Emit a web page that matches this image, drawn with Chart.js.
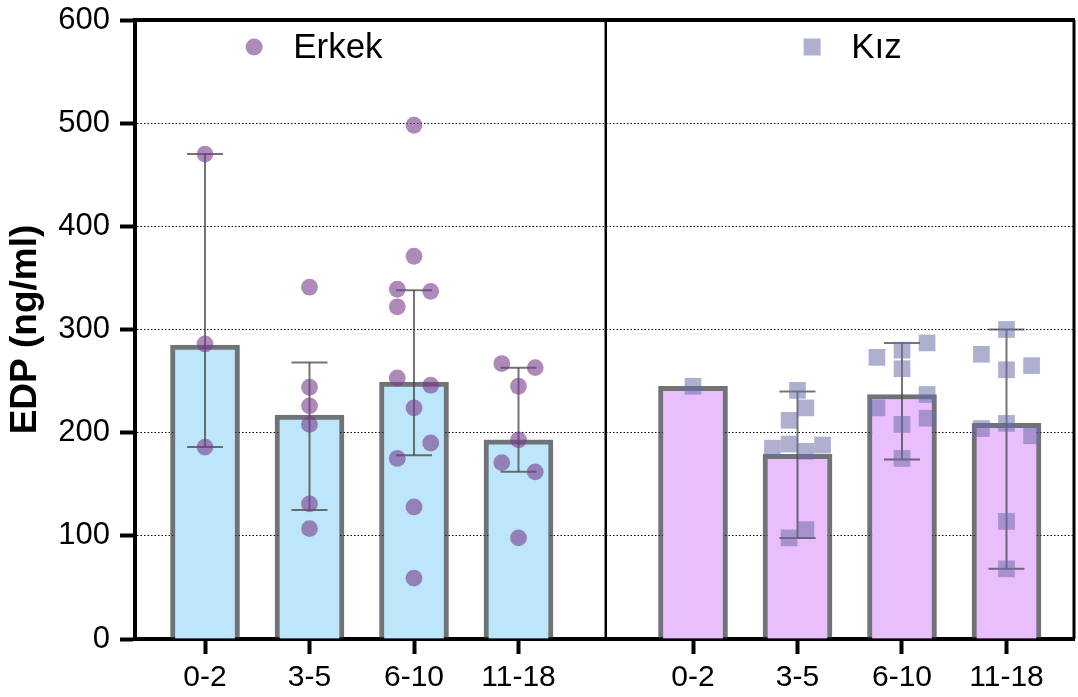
<!DOCTYPE html>
<html>
<head>
<meta charset="utf-8">
<script src="https://cdn.jsdelivr.net/npm/chart.js@4.4.0/dist/chart.umd.min.js"></script>
<style>
  html, body { margin: 0; padding: 0; background: #fff; }
  #wrap { width: 1078px; height: 697px; }
</style>
</head>
<body>
<div id="wrap"><canvas id="edpChart" width="1078" height="697"></canvas></div>
<script>
// age groups, same in both panels
const ageGroups = ['0-2', '3-5', '6-10', '11-18'];

// bar heights
const erkekBars = [285, 217, 249, 193];
const kizBars = [245, 179, 237, 209];

// whisker ends (low / high), no whisker for a single value
const erkekLow = [186, 125, 178, 162];
const erkekHigh = [470, 268, 338, 263];
const kizLow = [null, 98, 174, 68];
const kizHigh = [null, 240, 287, 300];

// single values per age group
const erkekPoints = [
    [470, 286, 186],
    [341, 244, 226, 208, 131, 107],
    [498, 371, 339, 337, 322, 253, 246, 224, 190, 175, 128, 59],
    [267, 263, 245, 193, 171, 162, 98]
];
const kizPoints = [
    [245],
    [241, 224, 212, 189, 185, 188, 182, 106, 98],
    [287, 280, 273, 262, 237, 224, 214, 208, 175],
    [300, 276, 265, 261, 209, 204, 197, 114, 68]
];

// column scatter lanes (left < 0 < right)
const erkekLanes = [
    [0, 0, 0],
    [0, 0, 0, 0, 0, 0],
    [0, 0, -2, 2, -2, -2, 2, 0, 2, -2, 0, 0],
    [-2, 2, 0, 0, -2, 2, 0]
];
const kizLanes = [
    [0],
    [0, 1, -1, -1, -3, 3, 1, 1, -1],
    [3, 0, -3, 0, 3, -3, 3, 0, 0],
    [0, -3, 3, 0, 0, -3, 3, 0, 0]
];

const yTicks = [0, 100, 200, 300, 400, 500, 600];

// layout
const leftSlots = [0, 1, 2, 3];
const rightSlots = [4.67, 5.67, 6.67, 7.67];
const dividerAt = 3.835;
const laneStep = 0.08;
const FONT = "'Liberation Sans', Arial, Helvetica, sans-serif";

const erkekColor = 'rgba(120, 60, 140, 0.6)';
const kizColor = 'rgba(110, 110, 170, 0.55)';
const barEdge = 'rgba(50, 55, 60, 0.7)';

function barData(slots, vals) {
    return slots.map((s, i) => ({ x: s, y: vals[i] }));
}

function whiskerData(slots, lo, hi) {
    const out = [];
    slots.forEach((s, i) => {
        if (lo[i] == null) return;
        out.push({ x: s, y: lo[i] }, { x: s, y: hi[i] }, { x: s, y: null });
    });
    return out;
}

function pointData(slots, pts, lanes) {
    const out = [];
    slots.forEach((s, i) => {
        pts[i].forEach((v, j) => out.push({ x: s + lanes[i][j] * laneStep, y: v }));
    });
    return out;
}

const legendSpots = [
    { text: 'Erkek', at: 0.47, style: 'circle', color: erkekColor },
    { text: 'Kız', at: 5.81, style: 'rect', color: kizColor }
];

const framePlugin = {
    id: 'frame',
    afterDatasetsDraw(chart) {
        const { ctx, chartArea: a, scales: { x } } = chart;
        ctx.save();
        ctx.strokeStyle = '#000';
        ctx.lineWidth = 4;
        ctx.beginPath();
        ctx.moveTo(a.left - 2, a.top);
        ctx.lineTo(a.right + 1, a.top);
        ctx.stroke();
        ctx.lineWidth = 3;
        ctx.beginPath();
        ctx.moveTo(a.right, a.top);
        ctx.lineTo(a.right, a.bottom);
        ctx.stroke();
        const dx = x.getPixelForValue(dividerAt);
        ctx.lineWidth = 2.5;
        ctx.beginPath();
        ctx.moveTo(dx, a.top);
        ctx.lineTo(dx, a.bottom);
        ctx.stroke();
        ctx.restore();
    },
    afterDraw(chart) {
        const { ctx, scales: { x } } = chart;
        ctx.save();
        legendSpots.forEach(item => {
            const px = x.getPixelForValue(item.at);
            const py = 47;
            ctx.fillStyle = item.color;
            ctx.beginPath();
            if (item.style === 'circle') {
                ctx.arc(px, py, 8.5, 0, Math.PI * 2);
            } else {
                ctx.rect(px - 8.5, py - 8.5, 17, 17);
            }
            ctx.fill();
            ctx.fillStyle = '#000';
            ctx.font = '35px ' + FONT;
            ctx.textBaseline = 'alphabetic';
            ctx.textAlign = 'left';
            ctx.fillText(item.text, px + 39, 58);
        });
        ctx.restore();
    }
};

const ctx = document.getElementById('edpChart').getContext('2d');
const chart = new Chart(ctx, {
    type: 'bar',
    data: {
        datasets: [
            {
                type: 'bar',
                label: 'Erkek bars',
                data: barData(leftSlots, erkekBars),
                backgroundColor: '#bde6fa',
                borderColor: barEdge,
                borderWidth: 5,
                barThickness: 69,
                grouped: false,
                order: 3
            },
            {
                type: 'bar',
                label: 'Kız bars',
                data: barData(rightSlots, kizBars),
                backgroundColor: '#e8befd',
                borderColor: barEdge,
                borderWidth: 5,
                barThickness: 69,
                grouped: false,
                order: 3
            },
            {
                type: 'line',
                label: 'whiskers',
                data: whiskerData(leftSlots, erkekLow, erkekHigh)
                    .concat(whiskerData(rightSlots, kizLow, kizHigh)),
                borderColor: 'rgba(70, 70, 70, 0.75)',
                borderWidth: 2,
                spanGaps: false,
                pointStyle: 'line',
                pointRadius: 18,
                pointBorderWidth: 2,
                pointBorderColor: 'rgba(70, 70, 70, 0.75)',
                order: 2
            },
            {
                type: 'scatter',
                label: 'Erkek',
                data: pointData(leftSlots, erkekPoints, erkekLanes),
                pointStyle: 'circle',
                pointRadius: 8.4,
                pointBorderWidth: 0,
                backgroundColor: erkekColor,
                order: 1
            },
            {
                type: 'scatter',
                label: 'Kız',
                data: pointData(rightSlots, kizPoints, kizLanes),
                pointStyle: 'rect',
                pointRadius: 11.8,
                pointBorderWidth: 0,
                backgroundColor: kizColor,
                order: 1
            }
        ]
    },
    options: {
        responsive: false,
        animation: false,
        layout: { autoPadding: false, padding: { top: 20, right: 4, left: 0, bottom: 0 } },
        plugins: {
            legend: { display: false },
            tooltip: { enabled: false }
        },
        scales: {
            x: {
                type: 'linear',
                min: -0.67,
                max: 8.316,
                offset: false,
                afterBuildTicks: s => { s.ticks = leftSlots.concat(rightSlots).map(v => ({ value: v })); },
                afterFit: s => { s.height = 58; s.paddingLeft = 0; s.paddingRight = 0; },
                ticks: {
                    autoSkip: false,
                    maxRotation: 0,
                    color: '#000',
                    padding: 6,
                    font: { family: FONT, size: 30 },
                    callback: (v, i) => ageGroups[i % ageGroups.length]
                },
                grid: { offset: false, drawOnChartArea: false, tickLength: 15, tickWidth: 4, tickColor: '#000' },
                border: { width: 4, color: '#000' }
            },
            y: {
                min: 0,
                max: 600,
                z: 1,
                afterBuildTicks: s => { s.ticks = yTicks.map(v => ({ value: v })); },
                afterFit: s => { s.width = 135; s.paddingTop = 0; s.paddingBottom = 0; },
                ticks: {
                    color: '#000',
                    padding: 10,
                    font: { family: FONT, size: 31 }
                },
                grid: {
                    color: c => (c.tick && c.tick.value > 0 && c.tick.value < 600) ? '#000' : 'rgba(0,0,0,0)',
                    lineWidth: 1,
                    tickLength: 15,
                    tickWidth: 4,
                    tickColor: '#000',
                    tickBorderDash: []
                },
                border: { width: 4, color: '#000', dash: [1.5, 2] },
                title: {
                    display: true,
                    text: 'EDP (ng/ml)',
                    color: '#000',
                    padding: { top: 4, bottom: 0 },
                    font: { family: FONT, size: 37, weight: 'bold' }
                }
            }
        }
    },
    plugins: [framePlugin]
});
</script>
</body>
</html>
